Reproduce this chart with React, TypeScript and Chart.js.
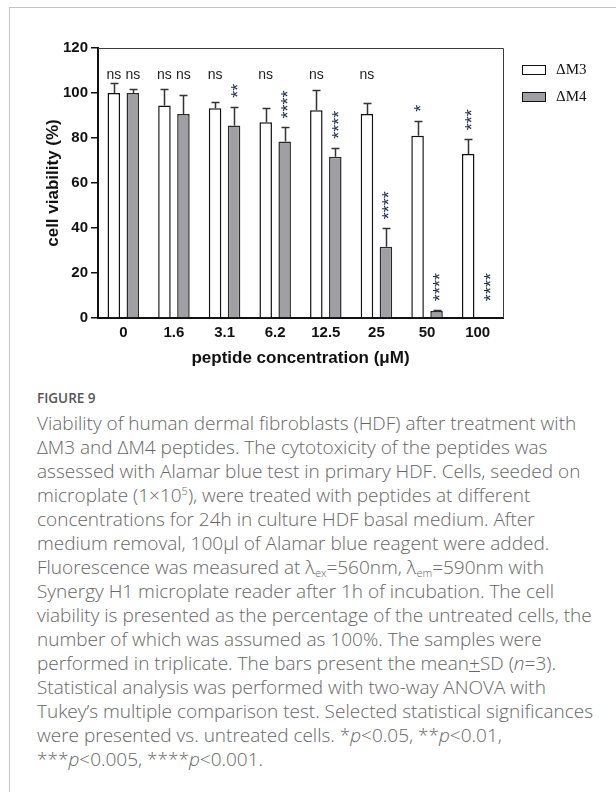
import React, { useEffect, useRef } from "react";
import { Chart, registerables } from "chart.js";

Chart.register(...registerables);

// ---- data ----
const categories = ["0", "1.6", "3.1", "6.2", "12.5", "25", "50", "100"];
const seriesNames = ["\u0394M3", "\u0394M4"];
const m3Mean = [100, 94.4, 93.2, 87.0, 92.3, 90.7, 81.0, 72.9];
const m3SD = [4.3, 7.2, 2.9, 6.2, 8.9, 5.0, 6.7, 6.5];
const m4Mean = [100, 90.7, 85.6, 78.4, 71.7, 31.7, 3.1, 0.3];
const m4SD = [1.8, 8.6, 8.3, 6.3, 4.0, 8.2, 0.4, 0];
const m3Sig = ["ns", "ns", "ns", "ns", "ns", "ns", "*", "***"];
const m4Sig = ["ns", "ns", "**", "****", "****", "****", "****", "****"];
const yTicks = [0, 20, 40, 60, 80, 100, 120];

const meanSets = [m3Mean, m4Mean];
const sdSets = [m3SD, m4SD];
const sigSets = [m3Sig, m4Sig];

const NS_LEVEL = 108;
const MIN_STAR_LEVEL = 3.5;
const STAR_GAP = 9;

const annotatePlugin = {
  id: "annotate",
  afterDatasetsDraw(chart: any) {
    const { ctx, chartArea, scales } = chart;
    const ys = scales.y;
    ctx.save();
    // top/right frame
    ctx.strokeStyle = "#3c3c3c";
    ctx.lineWidth = 1;
    ctx.beginPath();
    ctx.moveTo(chartArea.left, chartArea.top + 0.5);
    ctx.lineTo(chartArea.right + 0.5, chartArea.top + 0.5);
    ctx.lineTo(chartArea.right + 0.5, chartArea.bottom);
    ctx.stroke();

    chart.data.datasets.forEach((ds: any, di: number) => {
      const meta = chart.getDatasetMeta(di);
      const means = meanSets[di];
      const sds = sdSets[di];
      const sig = sigSets[di];
      meta.data.forEach((bar: any, i: number) => {
        const x = Math.round(bar.x) + 0.5;
        const topV = means[i] + sds[i];
        if (sds[i] > 0) {
          const yTop = Math.round(ys.getPixelForValue(topV)) + 0.5;
          ctx.strokeStyle = "#333";
          ctx.lineWidth = 1.5;
          ctx.beginPath();
          ctx.moveTo(x, bar.y);
          ctx.lineTo(x, yTop);
          ctx.moveTo(x - 4, yTop);
          ctx.lineTo(x + 4, yTop);
          ctx.stroke();
        }
        const label = sig[i];
        if (label === "ns") {
          ctx.fillStyle = "#222";
          ctx.font = "14px 'Liberation Sans', Arial, sans-serif";
          ctx.textAlign = "center";
          ctx.textBaseline = "middle";
          ctx.fillText(label, bar.x, ys.getPixelForValue(NS_LEVEL));
        } else if (label) {
          const anchor = ys.getPixelForValue(Math.max(topV, MIN_STAR_LEVEL)) - STAR_GAP;
          ctx.fillStyle = "#1e2a4e";
          ctx.font = "18px 'Liberation Sans', Arial, sans-serif";
          ctx.textAlign = "left";
          ctx.textBaseline = "alphabetic";
          const m = ctx.measureText(label);
          const off = (m.actualBoundingBoxAscent - m.actualBoundingBoxDescent) / 2;
          ctx.save();
          ctx.translate(bar.x, anchor);
          ctx.rotate(-Math.PI / 2);
          ctx.fillText(label, 0, off);
          ctx.restore();
        }
      });
    });

    // legend
    chart.data.datasets.forEach((ds: any, di: number) => {
      const bx = chartArea.right + 19;
      const cy = 69 + di * 27;
      ctx.fillStyle = ds.backgroundColor;
      ctx.fillRect(bx, cy - 4, 23, 9);
      ctx.strokeStyle = "#111";
      ctx.lineWidth = 1;
      ctx.strokeRect(bx + 0.5, cy - 4 + 0.5, 23, 9);
      ctx.fillStyle = "#111";
      ctx.font = "15px 'Liberation Serif', 'Times New Roman', serif";
      ctx.textAlign = "left";
      ctx.textBaseline = "middle";
      ctx.fillText(ds.label, bx + 34, cy + 1);
    });
    ctx.restore();
  },
};

export default function App() {
  const ref = useRef<HTMLCanvasElement>(null);

  useEffect(() => {
    const canvas = ref.current!;
    const chart = new Chart(canvas, {
      type: "bar",
      data: {
        labels: categories,
        datasets: [
          {
            label: seriesNames[0],
            data: m3Mean,
            backgroundColor: "#ffffff",
            borderColor: "#111",
            borderWidth: 1.5,
            categoryPercentage: 0.75,
            barPercentage: 0.66,
          },
          {
            label: seriesNames[1],
            data: m4Mean,
            backgroundColor: "#a0a0a4",
            borderColor: "#2a2a2a",
            borderWidth: 1.5,
            categoryPercentage: 0.75,
            barPercentage: 0.66,
          },
        ],
      },
      options: {
        responsive: false,
        animation: false,
        layout: { padding: { top: 48, right: 113, left: 0, bottom: 0 } },
        plugins: {
          legend: { display: false },
          tooltip: { enabled: false },
        },
        scales: {
          x: {
            afterFit: (s: any) => {
              s.height = 62;
            },
            grid: { display: false, drawTicks: false },
            border: { display: true, color: "#111", width: 2 },
            ticks: {
              color: "#111",
              padding: 6,
              font: { family: "'Liberation Sans', Arial, sans-serif", size: 15, weight: "bold" },
            },
            title: {
              display: true,
              text: "peptide concentration (\u03bcM)",
              color: "#111",
              padding: { top: 0, bottom: 11 },
              font: { family: "'Liberation Sans', Arial, sans-serif", size: 17, weight: "bold" },
            },
          },
          y: {
            min: 0,
            max: 120,
            afterFit: (s: any) => {
              s.width = 98;
            },
            afterBuildTicks: (s: any) => {
              s.ticks = yTicks.map((v) => ({ value: v }));
            },
            grid: {
              drawOnChartArea: false,
              drawTicks: true,
              tickLength: 7,
              color: "#111",
              lineWidth: 1.5,
            },
            border: { display: true, color: "#111", width: 2 },
            ticks: {
              color: "#111",
              padding: 3,
              font: { family: "'Liberation Sans', Arial, sans-serif", size: 15, weight: "bold" },
            },
            title: {
              display: true,
              text: "cell viability (%)",
              color: "#111",
              padding: { top: 43, bottom: 0 },
              font: { family: "'Liberation Sans', Arial, sans-serif", size: 17, weight: "bold" },
            },
          },
        },
      },
      plugins: [annotatePlugin],
    } as any);
    return () => chart.destroy();
  }, []);

  const capStyle: React.CSSProperties = {
    position: "absolute",
    left: 37,
    top: 411,
    fontFamily: "'Open Sans', 'Noto Sans', sans-serif",
    fontSize: 19,
    fontWeight: 300,
    lineHeight: "24px",
    color: "#666",
    whiteSpace: "nowrap",
  };
  const sub: React.CSSProperties = { fontSize: 11, verticalAlign: "-3px", lineHeight: 0 };
  const sup: React.CSSProperties = { fontSize: 11, verticalAlign: "7px", lineHeight: 0 };

  return (
    <div style={{ position: "absolute", left: 0, top: 0, width: 616, height: 792, overflow: "hidden", background: "#fff" }}>
      <div
        style={{
          position: "absolute",
          left: 9,
          top: 7,
          width: 607,
          height: 785,
          borderTop: "1px solid #c4c4c4",
          borderLeft: "1px solid #c4c4c4",
          boxSizing: "border-box",
        }}
      />
      <div style={{ position: "absolute", left: 0, top: 0, width: 616, height: 380 }}>
        <canvas ref={ref} width={616} height={380} style={{ display: "block", width: 616, height: 380 }} />
      </div>
      <div
        style={{
          position: "absolute",
          left: 37,
          top: 390,
          fontFamily: "'Open Sans', 'Noto Sans', sans-serif",
          fontSize: 13.5,
          fontWeight: 600,
          lineHeight: "16px",
          color: "#555",
          whiteSpace: "nowrap",
        }}
      >
        FIGURE 9
      </div>
      <div style={capStyle}>
        Viability of human dermal fibroblasts (HDF) after treatment with
        <br />
        ΔM3 and ΔM4 peptides. The cytotoxicity of the peptides was
        <br />
        assessed with Alamar blue test in primary HDF. Cells, seeded on
        <br />
        microplate (1×10<span style={sup}>5</span>), were treated with peptides at different
        <br />
        concentrations for 24h in culture HDF basal medium. After
        <br />
        medium removal, 100μl of Alamar blue reagent were added.
        <br />
        Fluorescence was measured at λ<span style={sub}>ex</span>=560nm, λ<span style={sub}>em</span>=590nm with
        <br />
        Synergy H1 microplate reader after 1h of incubation. The cell
        <br />
        viability is presented as the percentage of the untreated cells, the
        <br />
        number of which was assumed as 100%. The samples were
        <br />
        performed in triplicate. The bars present the mean<u>+</u>SD (<i>n</i>=3).
        <br />
        Statistical analysis was performed with two-way ANOVA with
        <br />
        Tukey’s multiple comparison test. Selected statistical significances
        <br />
        were presented vs. untreated cells. *<i>p</i>&lt;0.05, **<i>p</i>&lt;0.01,
        <br />
        ***<i>p</i>&lt;0.005, ****<i>p</i>&lt;0.001.
      </div>
    </div>
  );
}
